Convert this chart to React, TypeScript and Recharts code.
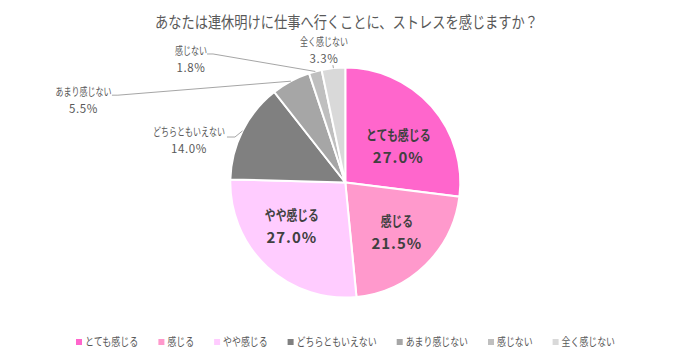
import React from 'react';
import { PieChart, Pie, Cell, Legend } from 'recharts';

const title = 'あなたは連休明けに仕事へ行くことに、ストレスを感じますか？';
const categories = ['とても感じる', '感じる', 'やや感じる', 'どちらともいえない', 'あまり感じない', '感じない', '全く感じない'];
const shares = [27.0, 21.5, 27.0, 14.0, 5.5, 1.8, 3.3];

const colors = ['#FF66CC', '#FF99CC', '#FFCCFF', '#808080', '#A6A6A6', '#BFBFBF', '#D9D9D9'];
const FONT = '"Noto Sans CJK JP", "Noto Sans", sans-serif';
const RAD = Math.PI / 180;

const data = categories.map((name, i) => ({ name, value: shares[i] }));

// label layout (style only): nudges for inside labels, offsets from slice edge for outside labels
const insideNudge: Record<number, [number, number]> = { 0: [3, 8], 1: [5, 2], 2: [-8, -5] };
const outsideLayout: Record<number, { tx: number; ty: number; ex: number; ey: number; h: number }> = {
  3: { tx: -53.6, ty: 5.2, ex: -7.6, ey: 6.2, h: 8 },
  4: { tx: -207.5, ty: 15, ex: -173, ey: 14, h: 6 },
  5: { tx: -124.3, ty: -16.5, ex: -102.3, ey: -17.5, h: 6 },
  6: { tx: -9.5, ty: -22, ex: -0.5, ey: -3, h: 0 },
};

const renderLabel = (props: any) => {
  const { cx, cy, midAngle, outerRadius, index } = props;
  const name = categories[index];
  const pct = shares[index].toFixed(1) + '%';
  const cos = Math.cos(-midAngle * RAD);
  const sin = Math.sin(-midAngle * RAD);
  if (insideNudge[index]) {
    const r = outerRadius * 0.58;
    const x = cx + r * cos + insideNudge[index][0];
    const y = cy + r * sin + insideNudge[index][1];
    return (
      <g key={'l' + index}>
        <text x={x} y={y - 6} textAnchor="middle" fontSize={14} fontWeight="bold" fill="#404040" fontFamily={FONT}
          textLength={name.length * 10.8} lengthAdjust="spacingAndGlyphs">{name}</text>
        <text x={x} y={y + 17} textAnchor="middle" fontSize={15} fontWeight="bold" fill="#404040" fontFamily={FONT}
          letterSpacing={1}>{pct}</text>
      </g>
    );
  }
  const L = outsideLayout[index];
  const exX = cx + outerRadius * cos;
  const exY = cy + outerRadius * sin;
  const bx = exX + L.tx;
  const by = exY + L.ty;
  const elX = exX + L.ex;
  const elY = exY + L.ey;
  return (
    <g key={'l' + index}>
      <polyline points={`${elX - L.h},${elY} ${elX},${elY} ${exX},${exY}`} fill="none" stroke="#A6A6A6" strokeWidth={1} />
      <text x={bx} y={by} textAnchor="middle" fontSize={11} fill="#595959" fontFamily={FONT}
        textLength={name.length * 8} lengthAdjust="spacingAndGlyphs">{name}</text>
      <text x={bx} y={by + 17} textAnchor="middle" fontSize={11.5} fill="#595959" fontFamily={FONT}
        letterSpacing={0.6}>{pct}</text>
    </g>
  );
};

const renderLegend = () => {
  const perChar = 8.9;
  const sq = 6;
  const gapIn = 3;
  const gapOut = 20;
  const widths = categories.map((c) => sq + gapIn + c.length * perChar);
  const total = widths.reduce((a, b) => a + b, 0) + gapOut * (categories.length - 1);
  let x = (691 - total) / 2;
  const items = categories.map((c, i) => {
    const x0 = x;
    x += widths[i] + gapOut;
    return (
      <g key={c}>
        <rect x={x0} y={11} width={sq} height={sq} fill={colors[i]} />
        <text x={x0 + sq + gapIn} y={18} fontSize={11.5} fill="#595959" fontFamily={FONT}
          textLength={c.length * perChar} lengthAdjust="spacingAndGlyphs">{c}</text>
      </g>
    );
  });
  return (
    <svg width={691} height={24} style={{ display: 'block' }}>
      {items}
    </svg>
  );
};

export default function App() {
  return (
    <div style={{ position: 'absolute', left: 0, top: 0, width: 691, height: 357, background: '#fff', fontFamily: FONT }}>
      <PieChart width={691} height={357} margin={{ top: 0, right: 0, bottom: 0, left: 0 }}>
        <Pie
          data={data}
          dataKey="value"
          nameKey="name"
          cx={345.3}
          cy={182.5}
          outerRadius={115}
          startAngle={90}
          endAngle={-270}
          stroke="#FFFFFF"
          strokeWidth={2}
          label={renderLabel}
          labelLine={false}
          isAnimationActive={false}
        >
          {data.map((d, i) => (
            <Cell key={d.name} fill={colors[i]} />
          ))}
        </Pie>
        <Legend content={renderLegend} wrapperStyle={{ position: 'absolute', left: 0, top: 328, width: 691, height: 24 }} />
      </PieChart>
      <svg width={691} height={40} style={{ position: 'absolute', left: 0, top: 0, pointerEvents: 'none' }}>
        <text x={155} y={28} fontSize={16} fill="#595959" fontFamily={FONT} textLength={383} lengthAdjust="spacingAndGlyphs">
          {title}
        </text>
      </svg>
    </div>
  );
}
